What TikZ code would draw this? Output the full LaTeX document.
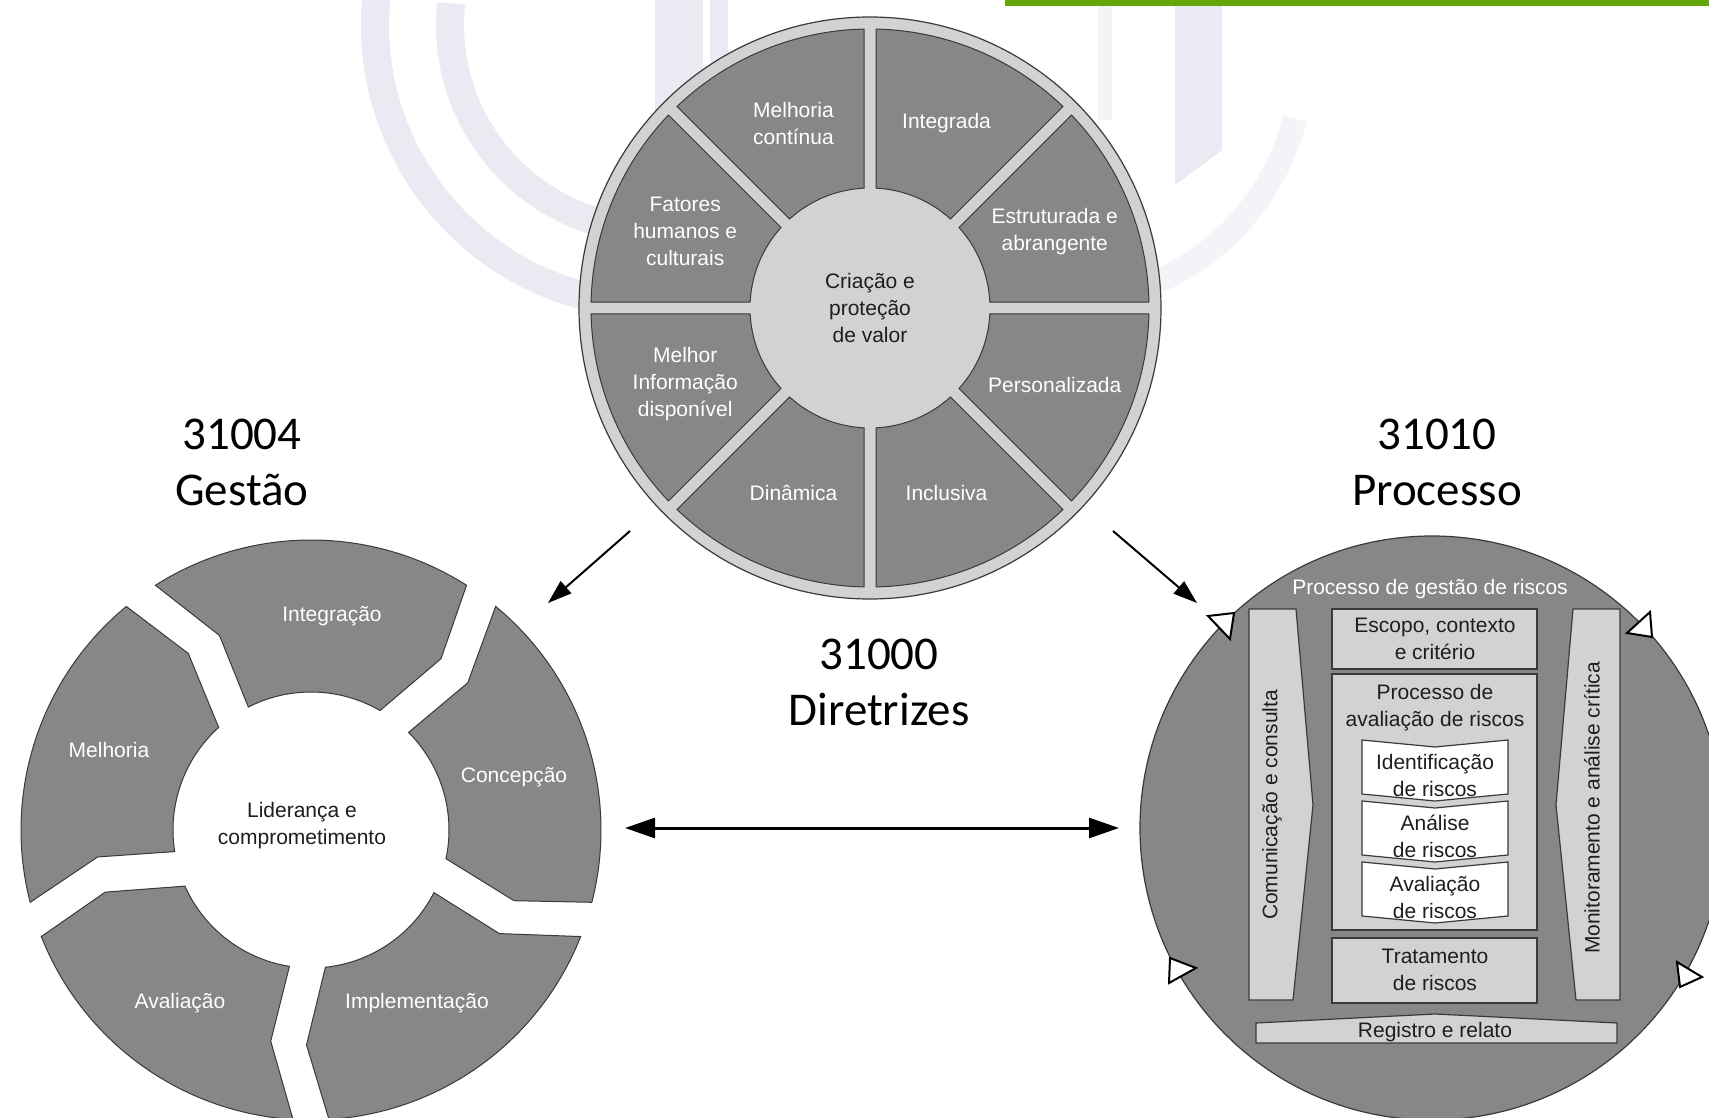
\documentclass[tikz,border=0pt]{standalone}
\usepackage{fontspec}
\setmainfont{Liberation Sans}
\newfontfamily\calfont{Carlito}
\usetikzlibrary{arrows.meta}
\definecolor{segdark}{HTML}{878787}
\definecolor{seglight}{HTML}{D2D2D2}
\definecolor{edgec}{HTML}{3A3A3A}
\definecolor{wmark}{HTML}{EAEAF3}
\definecolor{wmarklt}{HTML}{F3F3F8}
\definecolor{barg}{HTML}{63A70A}
\definecolor{txtdark}{HTML}{1E1E1E}
\tikzset{
  ringst/.style={fill=seglight, draw=edgec, line width=0.6pt},
  sectst/.style={fill=segdark, draw=edgec, line width=0.5pt},
  wtext/.style={text=white, font=\fontsize{10.5}{13.5}\selectfont, align=center, inner sep=0pt},
  dtext/.style={text=txtdark, font=\fontsize{10.5}{13.5}\selectfont, align=center, inner sep=0pt},
  biglbl/.style={font=\calfont\fontsize{23.5}{28}\selectfont, align=center, text=black, inner sep=0pt},
  lboxst/.style={fill=seglight, draw=edgec, line width=0.6pt},
  chevst/.style={fill=white, draw=edgec, line width=0.6pt},
  trist/.style={fill=white, draw=black, line width=1pt, line join=miter},
  arrst/.style={draw=black, line width=1pt, -{Triangle[length=12pt,width=8pt]}},
  darrst/.style={draw=black, line width=1.5pt, {Triangle[length=15pt,width=10pt]}-{Triangle[length=15pt,width=10pt]}},
  wmst/.style={draw=wmark, line width=14pt},
}
\begin{document}
\begin{tikzpicture}[x=0.5pt,y=-0.5pt]
\useasboundingbox (0,0) rectangle (1709,1118);
\clip (0,0) rectangle (1709,1118);
\fill[white] (0,0) rectangle (1709,1118);

% watermark
\draw[wmst] (655,25) ++(186:280) arc[start angle=186, end angle=100, radius=280];
\draw[wmst] (655,25) ++(186:205) arc[start angle=186, end angle=100, radius=205];
\fill[wmark] (655,0) rectangle (703,260);
\fill[wmark] (710,0) rectangle (728,260);
\fill[wmark] (1175,0) -- (1222,0) -- (1222,150) -- (1175,185) -- cycle;
\fill[wmarklt] (1098,0) rectangle (1112,120);
\draw[wmarklt, line width=12pt] (1060,60) ++(14:242) arc[start angle=14, end angle=66, radius=242];

% green bar
\fill[barg] (1005,0) rectangle (1709,6);

% ===== top circle (31000 principles)
\begin{scope}[shift={(870,308)}]
  \draw[ringst] (0,0) circle[radius=291];
  \foreach \a in {0,45,...,315} {
    \pgfmathsetmacro\oa{\a+asin(6/279)}
    \pgfmathsetmacro\ob{\a+45-asin(6/279)}
    \pgfmathsetmacro\ia{\a+asin(6/120)}
    \pgfmathsetmacro\ib{\a+45-asin(6/120)}
    \draw[sectst] (\oa:279) arc[start angle=\oa, end angle=\ob, radius=279]
      -- (\ib:120) arc[start angle=\ib, end angle=\ia, radius=120] -- cycle;
  }
  \node[wtext] (pint) at (-67.5:200) {Integrada};
  \node[wtext] (pest) at (-22.5:200) {Estruturada e\\abrangente};
  \node[wtext] (pper) at (22.5:200) {Personalizada};
  \node[wtext] (pinc) at (67.5:200) {Inclusiva};
  \node[wtext] (pdin) at (112.5:200) {Dinâmica};
  \node[wtext] (pinf) at (157.5:200) {Melhor\\Informação\\disponível};
  \node[wtext] (pfat) at (202.5:200) {Fatores\\humanos e\\culturais};
  \node[wtext] (pmel) at (247.5:200) {Melhoria\\contínua};
  \node[dtext] (pcen) at (0,0) {Criação e\\proteção\\de valor};
\end{scope}

% ===== left circle (31004 framework)
\begin{scope}[shift={(311,830)}]
  \foreach \g in {-126,-54,18,90,162} {
    \pgfmathsetmacro\h{\g+72}
    \pgfmathsetmacro\oa{\g+3.56}
    \pgfmathsetmacro\ob{\h-3.56}
    \pgfmathsetmacro\bb{\h+6-4.8}
    \pgfmathsetmacro\ib{\h+1.5-7.49}
    \pgfmathsetmacro\ia{\g+1.5+7.49}
    \pgfmathsetmacro\ba{\g+6+4.8}
    \draw[sectst] (\oa:290) arc[start angle=\oa, end angle=\ob, radius=290]
      -- (\bb:215) -- (\ib:138) arc[start angle=\ib, end angle=\ia, radius=138]
      -- (\ba:215) -- cycle;
  }
\end{scope}
\node[wtext] (fint) at (332,616) {Integração};
\node[wtext] (fcon) at (514,777) {Concepção};
\node[wtext] (fmel) at (109,750) {Melhoria};
\node[wtext] (fava) at (180,1003) {Avaliação};
\node[wtext] (fimp) at (417,1003) {Implementação};
\node[dtext] (flid) at (302,826) {Liderança e\\comprometimento};

% ===== right circle (31010 process)
\draw[fill=segdark, draw=edgec, line width=0.6pt] (1432,828) circle[radius=292];
\draw[trist] (1208,616) -- (1234,613) -- (1230,639) -- cycle;
\draw[trist] (1627,633) -- (1650,612) -- (1652,637) -- cycle;
\draw[trist] (1170,958) -- (1196,968) -- (1169,983) -- cycle;
\draw[trist] (1677,962) -- (1702,977) -- (1680,987) -- cycle;
\node[wtext] (rtit) at (1430,589) {Processo de gestão de riscos};
% side bars
\draw[lboxst] (1249,609) -- (1296,609) -- (1313,805) -- (1293,1000) -- (1249,1000) -- cycle;
\draw[lboxst] (1620,609) -- (1573,609) -- (1556,805) -- (1576,1000) -- (1620,1000) -- cycle;
\node[dtext, rotate=90] (rcom) at (1272,805) {Comunicação e consulta};
\node[dtext, rotate=90] (rmon) at (1592,808) {Monitoramento e análise crítica};
% boxes
\draw[lboxst] (1332,609) rectangle (1537,669);
\node[dtext] (resc) at (1435,639) {Escopo, contexto\\e critério};
\draw[lboxst] (1332,674) rectangle (1537,930);
\node[dtext] (rava) at (1435,708) {Processo de\\avaliação de riscos};
\foreach \yt in {740,801,862} {
  \draw[chevst] (1362,\yt) -- (1435,\yt+7) -- (1508,\yt) -- (1508,\yt+54)
    -- (1435,\yt+61) -- (1362,\yt+54) -- cycle;
}
\node[dtext] (rid) at (1435,775) {Identificação\\de riscos};
\node[dtext] (ran) at (1435,836) {Análise\\de riscos};
\node[dtext] (rav) at (1435,897) {Avaliação\\de riscos};
\draw[lboxst] (1332,938) rectangle (1537,1003);
\node[dtext] (rtra) at (1435,970) {Tratamento\\de riscos};
\draw[lboxst] (1256,1023) -- (1435,1014) -- (1617,1023) -- (1617,1043) -- (1256,1043) -- cycle;
\node[dtext] (rreg) at (1435,1032) {Registro e relato};

% ===== big labels
\node[biglbl] (lg) at (242,462) {31004\\Gestão};
\node[biglbl] (lp) at (1437,462) {31010\\Processo};
\node[biglbl] (ld) at (879,682) {31000\\Diretrizes};

% ===== arrows
\coordinate (a1s) at (630,531);
\coordinate (a1e) at (548,603);
\coordinate (a2s) at (1113,531);
\coordinate (a2e) at (1197,603);
\coordinate (d1) at (625,828);
\coordinate (d2) at (1119,828);
\draw[arrst] (a1s) -- (a1e);
\draw[arrst] (a2s) -- (a2e);
\draw[darrst] (d1) -- (d2);
\end{tikzpicture}
\end{document}
